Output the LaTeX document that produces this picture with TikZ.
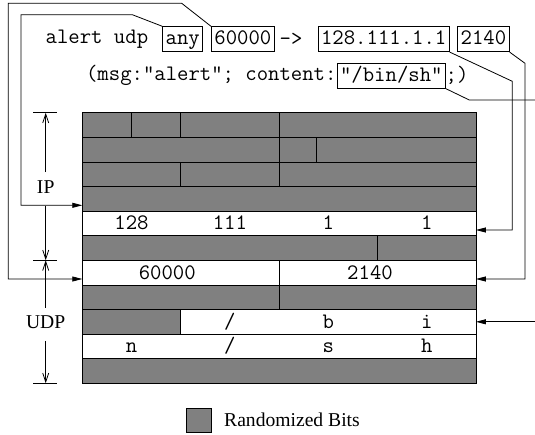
\documentclass[tikz,border=0pt]{standalone}
\usepackage{fontspec}
\setmainfont{Liberation Serif}
\usetikzlibrary{arrows.meta}

\begin{document}
\begin{tikzpicture}[x=1pt,y=1pt,
  code/.style={font=\fontsize{22.1}{26}\selectfont\ttfamily, inner sep=0pt},
  rulebox/.style={code, draw, line width=0.8pt, inner xsep=3pt, inner ysep=4pt, text height=14pt, text depth=3pt, anchor=west},
  lbl/.style={font=\fontsize{19.6}{23}\selectfont, inner xsep=2pt, inner ysep=8pt, text height=13pt, text depth=4pt},
  cell/.style={draw, rectangle, line width=0.8pt, anchor=north west, minimum height=24.6pt, inner sep=0pt, outer sep=0pt},
  rand/.style={cell, fill=gray},
  clear/.style={cell, fill=white},
  link/.style={line width=0.8pt, -{Triangle[length=10pt,width=5pt]}},
  dim/.style={line width=0.8pt, -{Straight Barb[length=9pt,width=6pt]}}]
\useasboundingbox (0,0) rectangle (535,-434);
% snort rule
\node[code, anchor=west] (head) at (45.5,-39.2) {alert udp};
\node[rulebox] (anyrule) at (162.3,-39.2) {any};
\node[rulebox] (portsrc) at (211,-39.2) {60000};
\node[code] (dirarrow) at (291,-39.2) {->};
\node[rulebox] (dstip) at (317.7,-39.2) {128.111.1.1};
\node[rulebox] (portdst) at (457.3,-39.2) {2140};
\node[code, anchor=east] (options) at (336.7,-75.8) {(msg:"alert"; content:};
\node[rulebox] (content) at (336.7,-75.8) {"/bin/sh"};
\node[code, anchor=west] (closing) at (445.5,-75.8) {;)};
% IP header
\node[rand, minimum width=49.2pt] (ver) at (82.3,-112.7) {};
\node[rand, minimum width=49.2pt] (ihl) at (131.5,-112.7) {};
\node[rand, minimum width=98.4pt] (tos) at (180.7,-112.7) {};
\node[rand, minimum width=196.8pt] (totlen) at (279.1,-112.7) {};
\node[rand, minimum width=196.8pt] (ident) at (82.3,-137.3) {};
\node[rand, minimum width=36.9pt] (flags) at (279.1,-137.3) {};
\node[rand, minimum width=159.9pt] (fragoff) at (316,-137.3) {};
\node[rand, minimum width=98.4pt] (ttl) at (82.3,-161.9) {};
\node[rand, minimum width=98.4pt] (proto) at (180.7,-161.9) {};
\node[rand, minimum width=196.8pt] (ipsum) at (279.1,-161.9) {};
\node[rand, minimum width=393.6pt] (src) at (82.3,-186.5) {};
\node[clear, minimum width=393.6pt] (dst) at (82.3,-211.1) {};
\node[rand, minimum width=295.2pt] (ipopts) at (82.3,-235.7) {};
\node[rand, minimum width=98.4pt] (padding) at (377.5,-235.7) {};
% UDP header and payload
\node[clear, minimum width=196.8pt] (sport) at (82.3,-260.3) {};
\node[clear, minimum width=196.8pt] (dport) at (279.1,-260.3) {};
\node[rand, minimum width=196.8pt] (udplen) at (82.3,-284.9) {};
\node[rand, minimum width=196.8pt] (udpsum) at (279.1,-284.9) {};
\node[rand, minimum width=98.4pt] (pay0) at (82.3,-309.5) {};
\node[clear, minimum width=295.2pt] (pay1) at (180.7,-309.5) {};
\node[clear, minimum width=393.6pt] (pay2) at (82.3,-334.1) {};
\node[rand, minimum width=393.6pt] (pay3) at (82.3,-358.7) {};
% field values
\node[code, anchor=base] (dsta) at (131.5,-229.8) {128};
\node[code, anchor=base] (dstb) at (229.9,-229.8) {111};
\node[code, anchor=base] (dstc) at (328.3,-229.8) {1};
\node[code, anchor=base] (dstd) at (426.7,-229.8) {1};
\node[code, anchor=base] (sportval) at (167.3,-279) {60000};
\node[code, anchor=base] (dportval) at (370,-279) {2140};
\node[code, anchor=base] (cha) at (229.9,-328.2) {/};
\node[code, anchor=base] (chb) at (328.3,-328.2) {b};
\node[code, anchor=base] (chc) at (426.7,-328.2) {i};
\node[code, anchor=base] (chd) at (131.5,-352.8) {n};
\node[code, anchor=base] (che) at (229.9,-352.8) {/};
\node[code, anchor=base] (chf) at (328.3,-352.8) {s};
\node[code, anchor=base] (chg) at (426.7,-352.8) {h};
% extent of the headers
\coordinate (iptop) at (45.7,-112.7);
\coordinate (ipbot) at (45.7,-260.3);
\coordinate (udpbot) at (45.7,-383.3);
\draw[line width=0.8pt] (33.3,-112.7) -- (57.3,-112.7);
\draw[line width=0.8pt] (33.3,-260.3) -- (57.3,-260.3);
\draw[line width=0.8pt] (33.3,-383.3) -- (57.3,-383.3);
\node[lbl, anchor=base] (iplabel) at (45.7,-193.3) {IP};
\node[lbl, anchor=base] (udplabel) at (45.7,-328.7) {UDP};
\draw[dim] (iplabel) -- (iptop);
\draw[dim] (iplabel) -- (ipbot);
\draw[dim] (udplabel) -- (ipbot);
\draw[dim] (udplabel) -- (udpbot);
% rule fields to packet fields
\draw[link] (anyrule.north west) -- (132.3,-14.7) -- (21,-14.7) |- ([yshift=-6.5pt]src.west);
\draw[link] (portsrc.north west) -- (181.7,-3.3) -- (8.3,-3.3) |- ([yshift=-6.4pt]sport.west);
\draw[link] (dstip.south east) -- (512.3,-81.3) |- ([yshift=-6.6pt]dst.east);
\draw[link] (portdst.south east) -- (525,-63.3) |- ([yshift=-6.4pt]dport.east);
\coordinate (rightout) at (535,-100);
\coordinate (rightin) at (535,-321.8);
\draw[line width=0.8pt] (content.south east) -- (469.3,-100) -- (rightout);
\draw[link] (rightin) -- (pay1.east);
% legend
\node[rand, minimum width=25pt, minimum height=24.4pt] (legbox) at (186.7,-408.3) {};
\node[font=\fontsize{19.6}{23}\selectfont, inner sep=0pt, anchor=base west] (legtext) at (224,-426.7) {Randomized Bits};
\end{tikzpicture}
\end{document}
